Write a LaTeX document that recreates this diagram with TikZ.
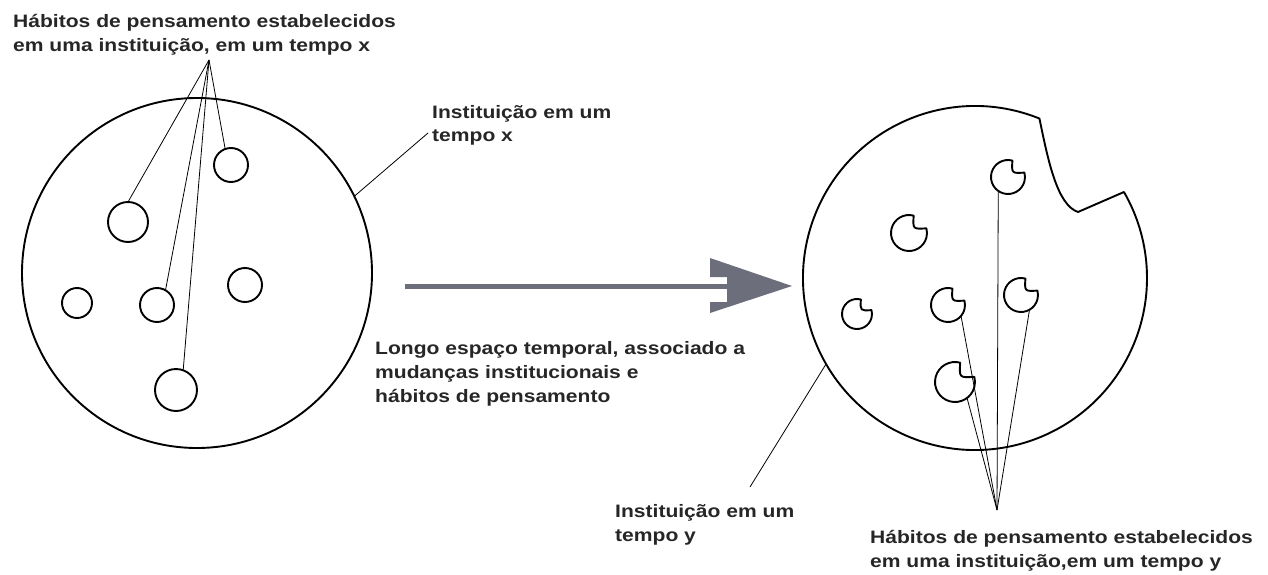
\documentclass[tikz,border=0pt]{standalone}
\usepackage{fontspec}
\setmainfont{Liberation Sans}[FakeStretch=1.17]
\usetikzlibrary{calc}

\definecolor{setacinza}{RGB}{108,110,124}

\tikzstyle{rotulo} = [font=\bfseries\fontsize{18}{24}\selectfont, text=black!85,%
                      align=left, inner sep=0pt, anchor=base west]
\tikzstyle{habito} = [draw=black, line width=1.9pt, circle, inner sep=0pt, outer sep=0pt]
\tikzstyle{mordido} = [circle, inner sep=0pt, outer sep=0pt]
\tikzstyle{chamada} = [draw=black, line width=0.8pt]

% habito "mordido": circulo com um pedaco arrancado em cima, a direita
\newcommand{\mordida}[2]{%
	\draw[line width=1.9pt, line join=round] (#1.75) arc[start angle=75, end angle=375, radius=#2pt]
		.. controls ($(#1.center)!0.3!(#1.45)$) .. (#1.75) -- cycle;}

\begin{document}
\begin{tikzpicture}[x=1pt, y=1pt]

	\useasboundingbox (0,0) rectangle (1268,-575);

	% instituicao em um tempo x
	\node (InstCircX) [habito, minimum size=350pt] at (197,-273) {};
	\node (H1) [habito, minimum size=34pt] at (231,-165) {};
	\node (H2) [habito, minimum size=40pt] at (128,-222) {};
	\node (H3) [habito, minimum size=34pt] at (157,-305) {};
	\node (H4) [habito, minimum size=30pt] at (77,-303) {};
	\node (H5) [habito, minimum size=34pt] at (245,-285) {};
	\node (H6) [habito, minimum size=42pt] at (176,-390) {};

	% (base = ultima linha do rotulo)
	\node (HabitosX) [rotulo] at (13,-52) {Hábitos de pensamento estabelecidos\\em uma instituição, em um tempo x};
	\node (InstX) [rotulo] at (432,-142) {Instituição em um\\tempo x};

	\coordinate (ConvX) at (209,-60);
	\coordinate (InstXTip) at (428,-133);
	\draw[chamada] (ConvX) -- (H1.110);
	\draw[chamada] (ConvX) -- (H2.north);
	\draw[chamada] (ConvX) -- (H3.60);
	\draw[chamada] (ConvX) -- (H6.70);
	\draw[chamada] (InstCircX.26) -- (InstXTip);

	% passagem do tempo
	\coordinate (TempoIni) at (405,-286);
	\coordinate (TempoFim) at (792,-286);
	\draw[setacinza, line width=5pt] (TempoIni) -- ($(TempoFim)+(-64,0)$);
	\fill[setacinza] (TempoFim) -- ++(-82,28) -- ++(0,-19) -- ++(17,0) -- ++(0,-25) -- ++(-17,0) -- ++(0,-11) -- cycle;
	\node (Tempo) [rotulo] at (375,-402) {Longo espaço temporal, associado a\\mudanças institucionais e\\hábitos de pensamento};

	% instituicao em um tempo y
	\coordinate (InstCircY) at (975,-278);
	\draw[line width=1.9pt, line join=round] ($(InstCircY)+(68:172pt)$) arc[start angle=68, end angle=390, radius=172pt]
		-- (1078,-212) .. controls (1057,-205) and (1048,-160) .. ($(InstCircY)+(68:172pt)$) -- cycle;

	\node (M1) [mordido, minimum size=34pt] at (1008,-177) {};
	\node (M2) [mordido, minimum size=36pt] at (909,-233) {};
	\node (M3) [mordido, minimum size=30pt] at (857,-314) {};
	\node (M4) [mordido, minimum size=34pt] at (948,-305) {};
	\node (M5) [mordido, minimum size=34pt] at (1021,-295) {};
	\node (M6) [mordido, minimum size=40pt] at (955,-382) {};
	\mordida{M1}{17}
	\mordida{M2}{18}
	\mordida{M3}{15}
	\mordida{M4}{17}
	\mordida{M5}{17}
	\mordida{M6}{20}

	\node (InstY) [rotulo] at (615,-541) {Instituição em um\\tempo y};
	\node (HabitosY) [rotulo] at (870,-567) {Hábitos de pensamento estabelecidos\\em uma instituição,em um tempo y};

	\coordinate (ConvY) at (997,-510);
	\coordinate (InstYTip) at (750,-487);
	\draw[chamada] (ConvY) -- (M1.235);
	\draw[chamada] (ConvY) -- (M4.-40);
	\draw[chamada] (ConvY) -- (M5.-60);
	\draw[chamada] (ConvY) -- (M6.-53);
	\draw[chamada] ($(InstCircY)+(210:172pt)$) -- (InstYTip);

\end{tikzpicture}
\end{document}
